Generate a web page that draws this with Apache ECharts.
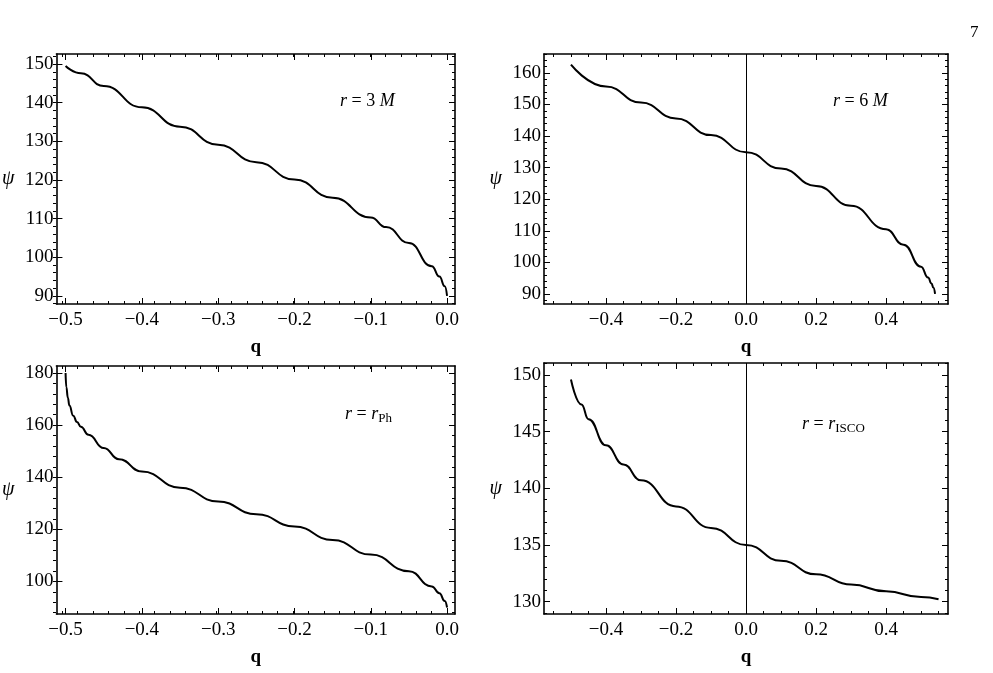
<!DOCTYPE html>
<html><head><meta charset="utf-8">
<script src="https://cdn.jsdelivr.net/npm/echarts@6/dist/echarts.min.js"></script>
<style>html,body{margin:0;padding:0;background:#fff}#c{width:993px;height:673px}</style>
</head><body><div id="c"></div>
<script>
// Panel 1: r = 3M
const q1 = [-0.5,-0.48,-0.45,-0.4,-0.35,-0.3,-0.25,-0.2,-0.15,-0.1,-0.08,-0.05,-0.02,-0.01,-0.003,0];
const psi1 = [149.5,147.6,144.3,138.8,133.8,129.1,124.6,120.1,115.4,110.3,107.8,103.7,97.7,95,92.5,90];
// Panel 2: r = 6M
const q2 = [-0.5,-0.4,-0.3,-0.2,-0.1,0,0.1,0.2,0.3,0.4,0.45,0.5,0.52,0.53,0.535,0.54];
const psi2 = [162.6,155.7,150.6,145.6,140.3,134.9,129.7,124.2,117.9,110.5,105.6,98.6,95.2,93.3,92,90];
// Panel 3: r = r_Ph
const q3 = [-0.5,-0.499,-0.497,-0.495,-0.49,-0.485,-0.48,-0.47,-0.45,-0.43,-0.4,-0.35,-0.3,-0.25,-0.2,-0.15,-0.1,-0.05,-0.02,-0.01,-0.003,0];
const psi3 = [180,174.5,170.5,167.5,163.6,161.2,159.4,156.3,151.2,146.9,142.2,136,130.7,125.8,121.1,115.9,110.3,103.9,98.1,95.5,92.5,90];
// Panel 4: r = r_ISCO
const q4 = [-0.5,-0.47,-0.45,-0.4,-0.35,-0.3,-0.2,-0.1,0,0.1,0.2,0.3,0.4,0.5,0.55];
const psi4 = [149.6,147.4,146.1,143.8,142.1,140.7,138.4,136.5,135,133.6,132.4,131.5,130.9,130.4,130.2];

const xTicksA = [-0.5,-0.4,-0.3,-0.2,-0.1,0.0];
const xTicksB = [-0.4,-0.2,0.0,0.2,0.4];
const yTicks1 = [90,100,110,120,130,140,150];
const yTicks2 = [90,100,110,120,130,140,150,160];
const yTicks3 = [100,120,140,160,180];
const yTicks4 = [130,135,140,145,150];

function rng(a,b,s){const o=[];for(let v=a;v<=b+1e-9;v+=s)o.push(+v.toFixed(4));return o;}
const panels = [
 {g:{left:53,top:54,width:402,height:250}, x:[-0.512,0.0104], y:[87.9,152.6], xt:xTicksA, xm:rng(-0.5,0,0.02), yt:yTicks1, ym:rng(88,152,2), q:q1, p:psi1, vline:false,
  ann:{x:340,y:92,t:'{i|r} = 3 {i|M}'}},
 {g:{left:544,top:54,width:404,height:250}, x:[-0.577,0.577], y:[86.8,166], xt:xTicksB, xm:rng(-0.55,0.55,0.05), yt:yTicks2, ym:rng(88,166,2), q:q2, p:psi2, vline:true,
  ann:{x:833,y:92,t:'{i|r} = 6 {i|M}'}},
 {g:{left:53,top:366,width:402,height:248}, x:[-0.512,0.0104], y:[87.5,182.7], xt:xTicksA, xm:rng(-0.5,0,0.02), yt:yTicks3, ym:rng(88,182,4), q:q3, p:psi3, vline:false,
  ann:{x:345,y:405,t:'{i|r} = {i|r}{s|Ph}'}},
 {g:{left:544,top:363,width:404,height:251}, x:[-0.577,0.577], y:[128.9,151.06], xt:xTicksB, xm:rng(-0.55,0.55,0.05), yt:yTicks4, ym:rng(129,151,1), q:q4, p:psi4, vline:true,
  ann:{x:802,y:415,t:'{i|r} = {i|r}{s|ISCO}'}}
];
const font = 'Liberation Serif';
const fmtX = v => (v < -1e-9 ? '\u2212' : '') + Math.abs(v).toFixed(1);
const grid=[], xAxis=[], yAxis=[], series=[], graphic=[];
panels.forEach((P,i)=>{
  grid.push(Object.assign({containLabel:false},P.g));
  grid.push(Object.assign({containLabel:false},P.g));
  const gm = 2*i, gn = 2*i+1;
  const line = {show:true, onZero:false, lineStyle:{color:'#000',width:1.6}};
  const noLine = {show:false, onZero:false};
  const base = (min,max)=>({type:'value',min,max,splitLine:{show:false}});
  xAxis.push(Object.assign(base(P.x[0],P.x[1]),{gridIndex:gm,position:'bottom',axisLine:line,
    axisTick:{inside:true,length:6,customValues:P.xt,lineStyle:{color:'#000'}},
    axisLabel:{customValues:P.xt,formatter:fmtX,color:'#000',fontFamily:font,fontSize:19,margin:7},
    name:'q',nameLocation:'middle',nameGap:34,nameTextStyle:{fontFamily:font,fontSize:19,fontWeight:'bold',color:'#000'}}));
  xAxis.push(Object.assign(base(P.x[0],P.x[1]),{gridIndex:gm,position:'top',axisLine:line,
    axisTick:{inside:true,length:6,customValues:P.xt,lineStyle:{color:'#000'}},axisLabel:{show:false}}));
  yAxis.push(Object.assign(base(P.y[0],P.y[1]),{gridIndex:gm,position:'left',axisLine:line,
    axisTick:{inside:true,length:6,customValues:P.yt,lineStyle:{color:'#000'}},
    axisLabel:{customValues:P.yt,color:'#000',fontFamily:font,fontSize:19,margin:3},
    name:'\u03C8',nameLocation:'middle',nameRotate:0,nameGap:42,nameTextStyle:{fontFamily:font,fontSize:20,fontStyle:'italic',color:'#000'}}));
  yAxis.push(Object.assign(base(P.y[0],P.y[1]),{gridIndex:gm,position:'right',axisLine:line,
    axisTick:{inside:true,length:6,customValues:P.yt,lineStyle:{color:'#000'}},axisLabel:{show:false}}));
  ['bottom','top'].forEach(pos=>xAxis.push(Object.assign(base(P.x[0],P.x[1]),{gridIndex:gn,position:pos,axisLine:noLine,
    axisTick:{inside:true,length:3,customValues:P.xm,lineStyle:{color:'#000'}},axisLabel:{show:false}})));
  ['left','right'].forEach(pos=>yAxis.push(Object.assign(base(P.y[0],P.y[1]),{gridIndex:gn,position:pos,axisLine:noLine,
    axisTick:{inside:true,length:3,customValues:P.ym,lineStyle:{color:'#000'}},axisLabel:{show:false}})));
  const xi = xAxis.length-4, yi = yAxis.length-4;
  const s = {type:'line',xAxisIndex:xi,yAxisIndex:yi,data:P.q.map((v,k)=>[v,P.p[k]]),smooth:0.5,smoothMonotone:'x',
    showSymbol:false,lineStyle:{color:'#000',width:2},silent:true};
  if(P.vline) s.markLine={silent:true,symbol:'none',label:{show:false},lineStyle:{color:'#000',width:1,type:'solid'},data:[{xAxis:0}]};
  series.push(s);
  graphic.push({type:'text',left:P.ann.x,top:P.ann.y,style:{text:P.ann.t,fontFamily:font,fontSize:18,fill:'#000',
    rich:{i:{fontFamily:font,fontSize:18,fontStyle:'italic'},s:{fontFamily:font,fontSize:13,verticalAlign:'bottom',padding:[10,0,0,0]}}}});
});
graphic.push({type:'text',left:970,top:24,style:{text:'7',fontFamily:font,fontSize:17,fill:'#000'}});
const chart = echarts.init(document.getElementById('c'));
chart.setOption({animation:false,backgroundColor:'#fff',grid,xAxis,yAxis,series,graphic});
</script></body></html>
